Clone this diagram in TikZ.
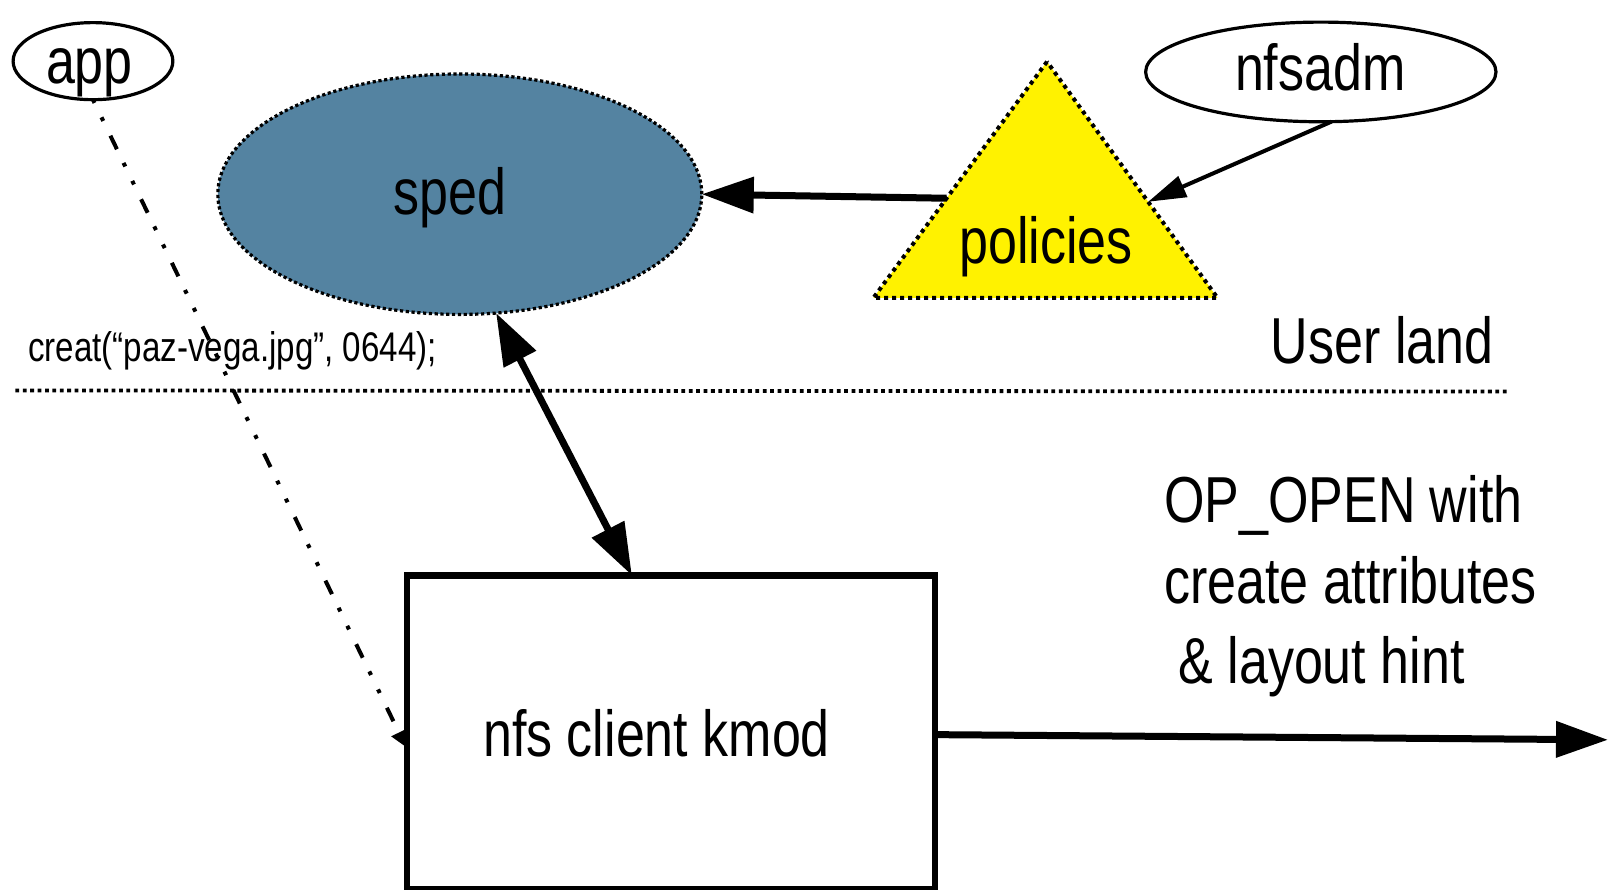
\documentclass[tikz,border=0pt]{standalone}
\usepackage{fontspec}
\setmainfont{Liberation Sans}[FakeStretch=0.8]
\usetikzlibrary{arrows.meta,shapes.geometric,calc}
\definecolor{spedblue}{RGB}{84,131,161}
\def\ux{0.51375pt}
\begin{document}
\begin{tikzpicture}[x=0.51375pt,y=-0.51375pt,
  lbl/.style={font=\fontsize{32.5}{39}\selectfont, inner sep=0pt, outer sep=0pt},
  smalllbl/.style={font=\fontsize{20.7}{25}\selectfont, inner sep=0pt, outer sep=0pt},
  whiteell/.style={ellipse, draw, line width=1.6pt, inner sep=0pt, outer sep=0pt},
  dotborder/.style={line width=1.6pt, dash pattern=on 1.6pt off 1.3pt},
  bigarrow/.style={line width=3.5pt, -{Triangle[length=26pt,width=17.5pt]}},
  thinarrow/.style={line width=2pt, -{Triangle[length=19pt,width=11pt]}},
  appline/.style={line width=2pt, dash pattern=on 7.5pt off 7.6pt on 2pt off 8pt on 2pt off 8.2pt, dash phase=15.3pt, -{Triangle[length=8pt,width=8pt]}},
  boxstyle/.style={draw, line width=3.2pt, inner sep=0pt, outer sep=0pt, anchor=north west}
]
\useasboundingbox (0,0) rectangle (1566,865.3);

% sped ellipse
\node[ellipse, fill=spedblue, draw, dotborder, inner sep=0pt, outer sep=0pt,
      minimum width=471*\ux, minimum height=234*\ux] (sped) at (447.5,189) {};

% triangle
\coordinate (tA) at (1019,60);
\coordinate (tL) at (850,290);
\coordinate (tR) at (1185,290);
\fill[yellow] (tA) -- (tL) -- (tR) -- cycle;
\draw[line width=2pt, dash pattern=on 2pt off 2pt] (tA) -- (tL) -- (tR) -- cycle;

% app and nfsadm ellipses
\node[whiteell, minimum width=155.5*\ux, minimum height=75*\ux] (app) at (90.5,59.5) {};
\node[whiteell, minimum width=341*\ux, minimum height=97*\ux] (nfsadm) at (1285.5,70) {};

% user/kernel separator
\coordinate (sepL) at (15,380);
\coordinate (sepR) at (1467,381);
\draw[line width=1.9pt, dash pattern=on 1.9pt off 1.8pt] (sepL) -- (sepR);

% app line to the box
\coordinate (append) at (395,727);
\draw[appline] (app.south) -- (append);

% box
\node[boxstyle, minimum width=514*\ux, minimum height=305*\ux] (box) at (396,560) {};

% connectors
\coordinate (polstart) at ($(tA)!0.578!(tL)$);
\draw[bigarrow] (polstart) -- (sped.east);
\coordinate (polhit) at ($(tA)!0.593!(tR)$);
\draw[thinarrow] (nfsadm.-78) -- (polhit);
\coordinate (boxtop) at ($(box.north west)+(219,0)$);
\draw[line width=3.5pt, {Triangle[length=26pt,width=17.5pt]}-{Triangle[length=26pt,width=17.5pt]}] (sped.-73) -- (boxtop);
\coordinate (outend) at (1565,720);
\draw[bigarrow] ($(box.east)+(1.5,2.5)$) -- (outend);

% texts
\node[lbl, anchor=base] (tapp) at (87,81) {app};
\node[lbl, anchor=base] (tsped) at (438,209) {sped};
\node[lbl, anchor=base] (tpol) at (1018,256) {policies};
\node[lbl, anchor=base] (tnfsadm) at (1285,88) {nfsadm};
\node[lbl, anchor=base west] (tuser) at (1237,354) {User land};
\node[smalllbl, anchor=base west] (tcreat) at (27.5,352) {creat(“paz-vega.jpg”, 0644);};
\node[lbl, anchor=base] (tbox) at (639,736) {nfs client kmod};
\node[lbl, anchor=base west] (top1) at (1133,509) {OP\_OPEN with};
\node[lbl, anchor=base west] (top2) at (1133,587) {create attributes};
\node[lbl, anchor=base west] (top3) at (1147,665) {\&\ layout hint};
\end{tikzpicture}
\end{document}
